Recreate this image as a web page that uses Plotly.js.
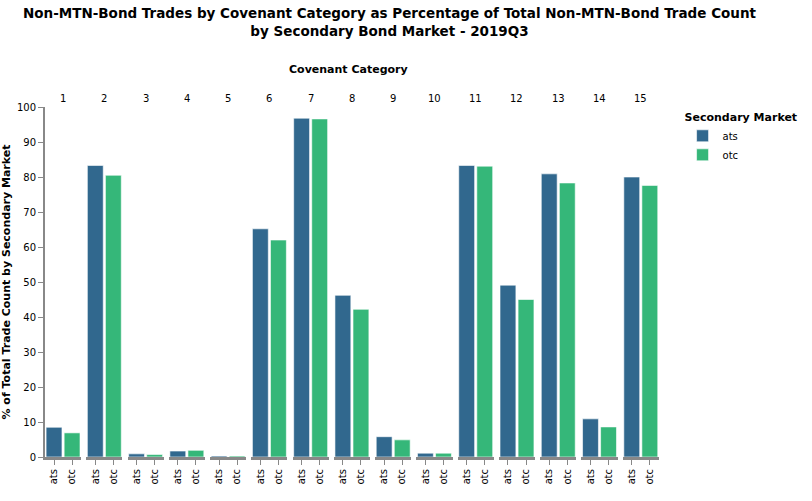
<!DOCTYPE html>
<html>
<head>
<script src="https://cdn.plot.ly/plotly-3.0.1.min.js"></script>
<style>body{margin:0}</style>
</head>
<body>
<div id="chart" style="width:812px;height:501px"></div>
<script>
const categories = ['1', '2', '3', '4', '5', '6', '7', '8', '9', '10', '11', '12', '13', '14', '15'];
const markets = ['ats', 'otc'];
const atsValues = [8.5, 83.3, 0.9, 1.7, 0.3, 65.2, 96.8, 46.2, 5.8, 1.1, 83.3, 49.1, 80.9, 10.9, 80.0];
const otcValues = [6.9, 80.5, 0.7, 1.9, 0.3, 62.0, 96.6, 42.2, 4.9, 1.1, 83.1, 45.0, 78.3, 8.6, 77.6];
const colors = {ats: '#31688e', otc: '#35b779'};

const font = 'DejaVu Sans, sans-serif';
const n = categories.length;
const step = 1 / n;
const panel = step * 0.875;

const traces = [];
const layout = {
  width: 812, height: 501,
  margin: {l: 45, r: 120, t: 107, b: 44},
  paper_bgcolor: 'white', plot_bgcolor: 'white',
  font: {family: font, size: 10, color: '#000'},
  bargap: 0.12,
  showlegend: true,
  legend: {
    x: 1.03, y: 1.0, xanchor: 'left', yanchor: 'top',
    title: {text: '<b>Secondary Market</b>', font: {size: 11}},
    font: {size: 10}, tracegroupgap: 0
  },
  yaxis: {
    range: [0, 100], dtick: 10, showgrid: false, zeroline: false,
    showline: true, linecolor: '#888', linewidth: 2,
    ticks: 'outside', ticklen: 5, tickcolor: '#888',
    tickfont: {size: 10},
    title: {text: '<b>% of Total Trade Count by Secondary Market</b>', font: {size: 11}, standoff: 6},
    anchor: 'x'
  },
  annotations: [{
    text: '<b>Non-MTN-Bond Trades by Covenant Category as Percentage of Total Non-MTN-Bond Trade Count<br>by Secondary Bond Market - 2019Q3</b>',
    xref: 'paper', yref: 'paper', x: (406 - 45) / 647, y: 1.0, yanchor: 'top', yshift: 104,
    showarrow: false, font: {size: 13.5}
  }, {
    text: '<b>Covenant Category</b>', xref: 'paper', yref: 'paper',
    x: (362 - 45) / 647, y: 1.0, yshift: 46, showarrow: false, font: {size: 11}
  }]
};

categories.forEach((cat, i) => {
  const ax = i === 0 ? '' : String(i + 1);
  const start = i * step;
  layout['xaxis' + ax] = {
    domain: [start, start + panel], anchor: 'y',
    showline: true, linecolor: '#888', linewidth: 3,
    ticks: 'outside', ticklen: 5, tickcolor: '#888',
    tickangle: -90, tickfont: {size: 10}, showgrid: false, zeroline: false,
    fixedrange: true
  };
  layout.annotations.push({
    text: cat, xref: 'x' + ax + ' domain', yref: 'paper',
    x: 0.5, y: 1.0, yshift: 16, showarrow: false, font: {size: 10}
  });
  const vals = [atsValues[i], otcValues[i]];
  markets.forEach((m, j) => {
    traces.push({
      type: 'bar', x: [m], y: [vals[j]], name: m,
      xaxis: 'x' + ax, yaxis: 'y',
      marker: {color: colors[m], line: {color: 'rgba(255,255,255,0.6)', width: 1}},
      showlegend: i === 0, legendgroup: m
    });
  });
});

Plotly.newPlot('chart', traces, layout, {displayModeBar: false});
</script>
</body>
</html>
